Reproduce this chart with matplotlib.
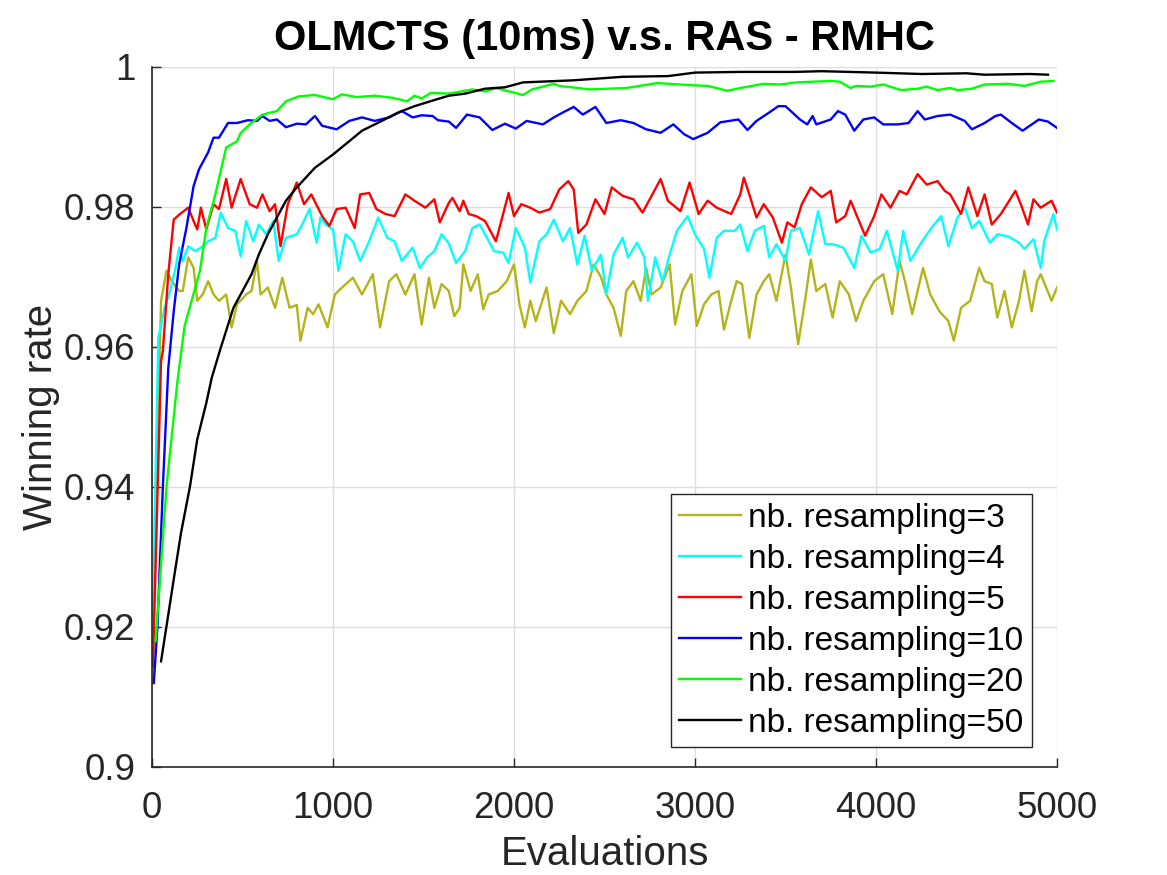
import numpy as np
import matplotlib
matplotlib.use("Agg")
import matplotlib.pyplot as plt
from matplotlib.ticker import FuncFormatter

plt.rcParams['font.family'] = ['Liberation Sans', 'DejaVu Sans']

# nb. resampling = 3
x3 = [3, 50, 80, 110, 150, 170, 200, 230, 250, 280, 310, 340, 370, 410, 440, 470, 520, 550,
      580, 600, 640, 680, 720, 760, 800, 820, 860, 890, 920, 970, 1010, 1050, 1110, 1160,
      1220, 1260, 1310, 1350, 1400, 1450, 1490, 1530, 1560, 1600, 1640, 1670, 1700, 1720,
      1760, 1800, 1830, 1860, 1910, 1960, 2000, 2030, 2060, 2090, 2120, 2180, 2220, 2260,
      2310, 2350, 2400, 2440, 2480, 2510, 2550, 2590, 2620, 2660, 2700, 2730, 2760, 2810,
      2860, 2890, 2930, 2980, 3010, 3050, 3090, 3130, 3160, 3200, 3230, 3260, 3300, 3340,
      3380, 3410, 3450, 3500, 3530, 3570, 3610, 3640, 3670, 3720, 3760, 3800, 3850, 3890,
      3930, 3990, 4040, 4090, 4130, 4160, 4200, 4260, 4300, 4350, 4400, 4430, 4470, 4520,
      4570, 4600, 4640, 4670, 4710, 4750, 4790, 4820, 4860, 4890, 4910, 4970, 5000]
y3 = [0.912, 0.9666, 0.9709, 0.9694, 0.968, 0.968, 0.9728, 0.9713, 0.9666, 0.9675, 0.9694,
      0.9675, 0.9666, 0.9675, 0.9628, 0.9661, 0.9675, 0.968, 0.9723, 0.9675, 0.9685, 0.9656,
      0.9699, 0.9656, 0.966, 0.9609, 0.9656, 0.9647, 0.9661, 0.9628, 0.9675, 0.9685, 0.9699,
      0.9675, 0.9704, 0.9628, 0.9694, 0.9704, 0.9675, 0.9704, 0.9632, 0.9699, 0.9656, 0.969,
      0.968, 0.9644, 0.9656, 0.9718, 0.968, 0.9704, 0.9654, 0.9675, 0.968, 0.9694, 0.9718,
      0.9661, 0.9628, 0.9666, 0.9637, 0.9685, 0.962, 0.9666, 0.9647, 0.9666, 0.968, 0.9718,
      0.970, 0.9675, 0.9656, 0.9616, 0.968, 0.9694, 0.9666, 0.9713, 0.9675, 0.9685, 0.9718,
      0.9632, 0.968, 0.9704, 0.963, 0.9661, 0.9675, 0.968, 0.9625, 0.9666, 0.9694, 0.969,
      0.9613, 0.9675, 0.9694, 0.9704, 0.9666, 0.9732, 0.9685, 0.9604, 0.967, 0.9725, 0.968,
      0.969, 0.9642, 0.9694, 0.9675, 0.9637, 0.9666, 0.9694, 0.9704, 0.9647, 0.9723, 0.9694,
      0.9647, 0.9713, 0.9675, 0.9651, 0.9637, 0.9609, 0.9656, 0.9666, 0.9713, 0.9694, 0.969,
      0.9642, 0.968, 0.9628, 0.9666, 0.9709, 0.9651, 0.9694, 0.9704, 0.9666, 0.9685]

# nb. resampling = 4
x4 = [4, 35, 70, 100, 130, 150, 170, 200, 240, 270, 310, 350, 380, 420, 460, 490, 520, 560,
      590, 630, 670, 700, 740, 800, 830, 870, 910, 930, 960, 1000, 1030, 1070, 1110, 1150,
      1200, 1250, 1300, 1340, 1380, 1440, 1480, 1520, 1560, 1600, 1640, 1680, 1730, 1770,
      1810, 1840, 1890, 1940, 1970, 2010, 2060, 2090, 2140, 2180, 2220, 2270, 2310, 2350,
      2390, 2430, 2480, 2510, 2550, 2600, 2630, 2680, 2720, 2740, 2780, 2820, 2860, 2900,
      2960, 3000, 3050, 3080, 3120, 3160, 3220, 3250, 3290, 3330, 3380, 3410, 3450, 3500,
      3530, 3580, 3630, 3680, 3720, 3760, 3820, 3880, 3920, 3970, 4020, 4060, 4120, 4150,
      4190, 4250, 4300, 4360, 4400, 4450, 4490, 4530, 4570, 4630, 4670, 4730, 4790, 4820,
      4870, 4910, 4930, 4980, 5000]
y4 = [0.9215, 0.9613, 0.9656, 0.968, 0.9713, 0.9742, 0.9723, 0.9744, 0.9737, 0.9742, 0.9751,
      0.9756, 0.9792, 0.977, 0.9766, 0.973, 0.978, 0.9751, 0.9775, 0.9761, 0.978, 0.9723,
      0.9756, 0.9761, 0.9775, 0.9797, 0.9749, 0.9785, 0.9775, 0.9768, 0.9709, 0.9761, 0.9751,
      0.9723, 0.9751, 0.9785, 0.9756, 0.9751, 0.9723, 0.9742, 0.9713, 0.9728, 0.9737, 0.9761,
      0.9748, 0.972, 0.9737, 0.977, 0.9775, 0.9761, 0.9737, 0.9735, 0.972, 0.977, 0.9742,
      0.9692, 0.9751, 0.9761, 0.9782, 0.9751, 0.977, 0.9718, 0.9759, 0.9709, 0.9732, 0.9675,
      0.9732, 0.9756, 0.9728, 0.9749, 0.9728, 0.9666, 0.9728, 0.9694, 0.9732, 0.9766, 0.9787,
      0.9761, 0.974, 0.9699, 0.9756, 0.9766, 0.9766, 0.9775, 0.9737, 0.9766, 0.9773, 0.9728,
      0.9747, 0.9723, 0.9766, 0.977, 0.9732, 0.9794, 0.9747, 0.9747, 0.9742, 0.9713, 0.9759,
      0.9735, 0.974, 0.9766, 0.9709, 0.9766, 0.9723, 0.9749, 0.9768, 0.9787, 0.9744, 0.9785,
      0.9799, 0.977, 0.978, 0.9749, 0.9761, 0.9758, 0.9749, 0.974, 0.9754, 0.9713, 0.9752,
      0.979, 0.9768]

# nb. resampling = 5
x5 = [5, 50, 60, 90, 120, 150, 180, 200, 230, 250, 270, 300, 340, 370, 410, 440, 490, 520,
      540, 580, 610, 650, 680, 710, 750, 800, 840, 880, 940, 980, 1020, 1070, 1120, 1150,
      1200, 1240, 1290, 1340, 1400, 1450, 1510, 1560, 1590, 1640, 1660, 1700, 1720, 1750,
      1790, 1840, 1900, 1940, 1970, 2000, 2040, 2090, 2140, 2200, 2250, 2300, 2330, 2355,
      2400, 2450, 2500, 2540, 2600, 2660, 2710, 2750, 2810, 2850, 2920, 2970, 3020, 3070,
      3120, 3200, 3250, 3270, 3300, 3340, 3380, 3430, 3480, 3510, 3550, 3590, 3640, 3700,
      3750, 3780, 3830, 3860, 3890, 3940, 3990, 4030, 4080, 4130, 4170, 4230, 4280, 4340,
      4380, 4410, 4470, 4510, 4560, 4600, 4640, 4690, 4770, 4800, 4840, 4870, 4910, 4970,
      5000]
y5 = [0.9144, 0.958, 0.9594, 0.9704, 0.9782, 0.9789, 0.9795, 0.9799, 0.978, 0.9768, 0.9799,
      0.9768, 0.9804, 0.9797, 0.984, 0.9799, 0.984, 0.9818, 0.9804, 0.9799, 0.9818, 0.9794,
      0.9804, 0.9744, 0.9804, 0.9835, 0.9804, 0.9818, 0.9787, 0.9773, 0.9797, 0.9799, 0.977,
      0.9818, 0.982, 0.9797, 0.979, 0.9787, 0.9818, 0.9809, 0.9799, 0.9811, 0.9778, 0.9806,
      0.9813, 0.9794, 0.9809, 0.979, 0.9787, 0.978, 0.9751, 0.979, 0.982, 0.9787, 0.9804,
      0.9799, 0.9792, 0.9797, 0.9825, 0.9837, 0.9825, 0.9763, 0.9775, 0.9811, 0.979, 0.9828,
      0.9816, 0.9811, 0.9792, 0.9811, 0.984, 0.9809, 0.9794, 0.9835, 0.979, 0.9809, 0.9799,
      0.979, 0.9818, 0.9842, 0.9818, 0.9785, 0.9804, 0.9785, 0.9749, 0.9778, 0.9771, 0.9804,
      0.9828, 0.9814, 0.9823, 0.9778, 0.9787, 0.9809, 0.979, 0.9759, 0.9787, 0.9818, 0.9799,
      0.9823, 0.9818, 0.9847, 0.9832, 0.9837, 0.9823, 0.9818, 0.979, 0.9828, 0.9787, 0.9818,
      0.9775, 0.979, 0.9823, 0.9804, 0.9775, 0.9811, 0.9799, 0.9809, 0.9792]

# nb. resampling = 10
x10 = [10, 30, 60, 90, 120, 150, 190, 230, 260, 310, 340, 370, 420, 470, 530, 580, 610, 650,
       690, 740, 800, 850, 900, 940, 1020, 1090, 1160, 1230, 1310, 1380, 1440, 1490, 1550,
       1580, 1640, 1680, 1740, 1810, 1880, 1950, 2010, 2070, 2160, 2220, 2270, 2330, 2380,
       2450, 2510, 2590, 2660, 2730, 2810, 2880, 2940, 2990, 3070, 3140, 3240, 3290, 3340,
       3410, 3460, 3500, 3580, 3620, 3650, 3670, 3750, 3790, 3830, 3880, 3930, 3990, 4040,
       4120, 4180, 4230, 4270, 4340, 4410, 4490, 4530, 4600, 4660, 4690, 4750, 4810, 4900,
       4950, 5000]
y10 = [0.912, 0.92, 0.94, 0.957, 0.9651, 0.9718, 0.977, 0.983, 0.9854, 0.9878, 0.9899, 0.9899,
       0.992, 0.992, 0.9924, 0.9923, 0.993, 0.9923, 0.9925, 0.9914, 0.9919, 0.9918, 0.993,
       0.9916, 0.9911, 0.9923, 0.9928, 0.9923, 0.9928, 0.9937, 0.9928, 0.9931, 0.993, 0.9924,
       0.9922, 0.9913, 0.9932, 0.9928, 0.991, 0.9919, 0.9912, 0.9923, 0.9918, 0.9928, 0.9935,
       0.9943, 0.9932, 0.9943, 0.992, 0.9924, 0.992, 0.9911, 0.9906, 0.9918, 0.9904, 0.9897,
       0.9906, 0.9921, 0.9925, 0.991, 0.9923, 0.9935, 0.9944, 0.9944, 0.9925, 0.9918, 0.993,
       0.9918, 0.9925, 0.9937, 0.9932, 0.9909, 0.9925, 0.9928, 0.9918, 0.9918, 0.992, 0.9937,
       0.9925, 0.993, 0.9932, 0.9923, 0.9911, 0.992, 0.993, 0.9932, 0.992, 0.9909, 0.9925,
       0.9922, 0.9913]

# nb. resampling = 20
x20 = [20, 80, 140, 180, 265, 300, 350, 410, 470, 490, 540, 610, 690, 740, 810, 900, 1000,
       1050, 1130, 1230, 1330, 1410, 1450, 1490, 1540, 1640, 1770, 1840, 1900, 1960, 2050,
       2100, 2220, 2250, 2420, 2620, 2790, 2980, 3070, 3180, 3250, 3380, 3470, 3560, 3650,
       3750, 3800, 3860, 3890, 3970, 4040, 4140, 4230, 4280, 4340, 4410, 4450, 4530, 4600,
       4730, 4820, 4910, 4980]
y20 = [0.918, 0.94, 0.955, 0.963, 0.9709, 0.977, 0.9818, 0.9885, 0.9894, 0.9906, 0.9918,
       0.9932, 0.9937, 0.9951, 0.9958, 0.996, 0.9954, 0.9961, 0.9957, 0.9959, 0.9956, 0.9951,
       0.9959, 0.9955, 0.9963, 0.9962, 0.9968, 0.9965, 0.997, 0.9966, 0.996, 0.9968, 0.9976,
       0.9973, 0.9968, 0.997, 0.9977, 0.9974, 0.9973, 0.9966, 0.997, 0.9976, 0.9975, 0.9978,
       0.9979, 0.998, 0.9979, 0.997, 0.9973, 0.9972, 0.9975, 0.9967, 0.9969, 0.9972, 0.9967,
       0.997, 0.9967, 0.9969, 0.9975, 0.9976, 0.9973, 0.9979, 0.998]

# nb. resampling = 50
x50 = [50, 80, 120, 160, 210, 250, 300, 330, 380, 450, 500, 550, 590, 640, 690, 740, 800,
       850, 900, 1000, 1090, 1160, 1270, 1360, 1450, 1550, 1640, 1730, 1840, 1950, 2050, 2330,
       2600, 2850, 3000, 3250, 3550, 3700, 4000, 4250, 4500, 4600, 4850, 4950]
y50 = [0.9151, 0.9201, 0.9268, 0.9334, 0.9401, 0.9468, 0.952, 0.9556, 0.9599, 0.9656, 0.968,
       0.9704, 0.9732, 0.9761, 0.9785, 0.9809, 0.9828, 0.9842, 0.9856, 0.9875, 0.9894, 0.9909,
       0.9923, 0.9935, 0.9944, 0.9952, 0.9959, 0.9962, 0.9969, 0.9971, 0.9978, 0.9981, 0.9986,
       0.9987, 0.9992, 0.9993, 0.9993, 0.9994, 0.9992, 0.999, 0.9991, 0.9989, 0.999, 0.9989]

series = [(x3, y3, 'nb. resampling=3', '#b3b31a'),
          (x4, y4, 'nb. resampling=4', '#00ffff'),
          (x5, y5, 'nb. resampling=5', '#ff0000'),
          (x10, y10, 'nb. resampling=10', '#0000ff'),
          (x20, y20, 'nb. resampling=20', '#00ff00'),
          (x50, y50, 'nb. resampling=50', '#000000')]

fig = plt.figure(figsize=(11.67, 8.75), dpi=100)
ax = fig.add_axes([152 / 1167, (875 - 767) / 875, 905 / 1167, 700 / 875])

for xs, ys, lab, col in series:
    ax.plot(xs, ys, color=col, lw=1.7, label=lab)

ax.set_xlim(0, 5000)
ax.set_ylim(0.9, 1.0)
ax.set_xticks(np.arange(0, 5001, 1000))
ax.set_yticks(np.arange(0.9, 1.0001, 0.02))
ax.yaxis.set_major_formatter(FuncFormatter(lambda v, p: '%g' % round(v, 2)))

ax.grid(True, color='#dedede', lw=1.0)
ax.set_axisbelow(True)
for s in ['top', 'right']:
    ax.spines[s].set_visible(False)
for s in ['left', 'bottom']:
    ax.spines[s].set_color('#262626')
    ax.spines[s].set_linewidth(1.2)
ax.tick_params(direction='in', length=6.5, width=1.0, colors='#262626',
               labelsize=26.5, pad=12)
ax.tick_params(axis='x', pad=17)

ax.set_xlabel('Evaluations', fontsize=29, color='#262626', labelpad=7)
ax.set_ylabel('Winning rate', fontsize=29, color='#262626', labelpad=3)
ax.set_title('OLMCTS (10ms) v.s. RAS - RMHC', fontsize=30, fontweight='bold', pad=12)

leg = ax.legend(loc='lower right', bbox_to_anchor=(0.9724, 0.0286), borderaxespad=0,
                fontsize=24, fancybox=False, framealpha=1, edgecolor='#262626',
                handlelength=1.86, handletextpad=0.22, labelspacing=0.3, borderpad=0.25)
leg.get_frame().set_linewidth(1.0)

fig.savefig('out.png', dpi=100)
